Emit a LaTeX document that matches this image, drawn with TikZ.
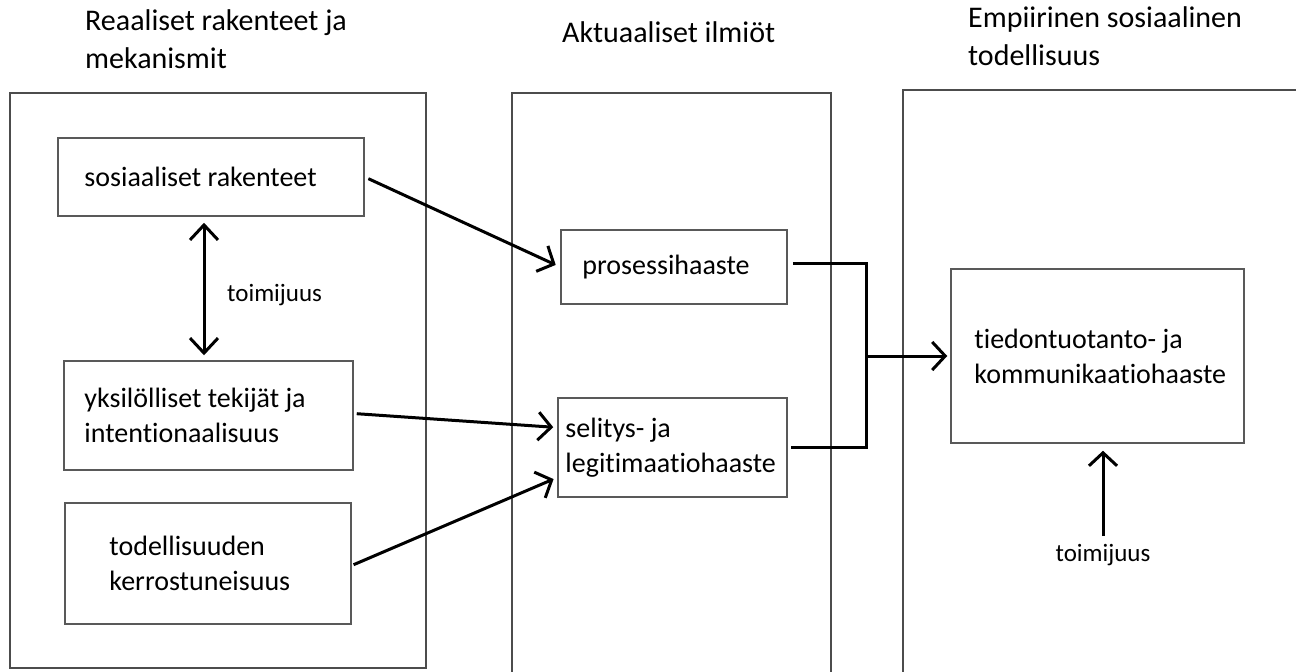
\documentclass[tikz,border=0pt]{standalone}
\usepackage{fontspec}
\setmainfont{Carlito}[Ligatures=NoCommon]
\usetikzlibrary{arrows.meta,positioning}

\tikzset{
  panel/.style={draw=black!70, line width=1.2pt},
  box/.style={draw=black!65, line width=1.5pt, inner sep=0pt},
  boxtext/.style={font=\fontsize{28}{35}\selectfont, align=left, inner sep=0pt, anchor=west},
  title/.style={font=\fontsize{30}{38}\selectfont, align=left, inner sep=0pt, anchor=base west},
  lbl/.style={font=\fontsize{25}{30}\selectfont, inner sep=0pt},
  conn/.style={line width=3pt},
  arr/.style={conn, -{Straight Barb[length=13pt,width=28pt]}},
  dblarr/.style={conn, {Straight Barb[length=15pt,width=28pt]}-{Straight Barb[length=15pt,width=28pt]}},
}

\begin{document}
\begin{tikzpicture}[x=1pt,y=-1pt]
    \clip (0,0) rectangle (1296,672);
    \fill[white] (0,0) rectangle (1296,672);

    % Panels
    \draw[panel] (10,93) rectangle (426,668);
    \draw[panel] (512,93) rectangle (831,700);
    \draw[panel] (903,90) rectangle (1310,700);

    % Titles (base = last line)
    \node[title] (t1) at (85,68) {Reaaliset rakenteet ja\\mekanismit};
    \node[title] (t2) at (562,42) {Aktuaaliset ilmiöt};
    \node[title] (t3) at (968,65) {Empiirinen sosiaalinen\\todellisuus};

    % Boxes
    \node[box, minimum width=306pt, minimum height=78pt] (sos) at (211,177) {};
    \node[box, minimum width=289pt, minimum height=109pt] (yks) at (208.5,415.5) {};
    \node[box, minimum width=286pt, minimum height=121pt] (tod) at (208,563.5) {};
    \node[box, minimum width=226pt, minimum height=74pt] (pro) at (674,267) {};
    \node[box, minimum width=229pt, minimum height=99pt] (sel) at (672.5,447.5) {};
    \node[box, minimum width=293pt, minimum height=174pt] (tie) at (1097.5,356) {};

    % Box texts
    \node[boxtext] at ([xshift=27pt]sos.west) {sosiaaliset rakenteet};
    \node[boxtext] at ([xshift=21pt]yks.west) {yksilölliset tekijät ja\\intentionaalisuus};
    \node[boxtext] at ([xshift=45pt]tod.west) {todellisuuden\\kerrostuneisuus};
    \node[boxtext] at ([xshift=22pt]pro.west) {prosessihaaste};
    \node[boxtext] at ([xshift=8pt]sel.west) {selitys- ja\\legitimaatiohaaste};
    \node[boxtext] at ([xshift=24pt]tie.west) {tiedontuotanto- ja\\kommunikaatiohaaste};

    % Arrows into the middle panel
    \draw[arr, shorten <=4pt, shorten >=5pt] (sos.east) -- (pro.west);
    \draw[arr, shorten <=3pt, shorten >=4pt] ([yshift=2pt]yks.east) -- ([yshift=20pt]sel.west);
    \draw[arr, shorten <=2pt, shorten >=4pt] ([yshift=-2pt]tod.east) -- ([yshift=-30pt]sel.west);

    % Bracket to the right panel
    \coordinate (jn) at (866,356);
    \draw[conn] ([xshift=5pt,yshift=4pt]pro.east) -| (jn) |- ([xshift=3pt]sel.east);
    \draw[arr, shorten >=3pt] (jn) -- (tie.west);

    % Agency
    \draw[dblarr, shorten <=6pt, shorten >=5pt] ([xshift=-7pt]sos.south) -- ([xshift=-7pt]sos.south |- yks.north);
    \node[lbl, anchor=west] (ag1) at (227,295) {toimijuus};
    \node[lbl] (ag2) at (1103,555) {toimijuus};
    \draw[arr, shorten <=8pt, shorten >=7pt] (ag2.north) -- (ag2.north |- tie.south);
\end{tikzpicture}
\end{document}
